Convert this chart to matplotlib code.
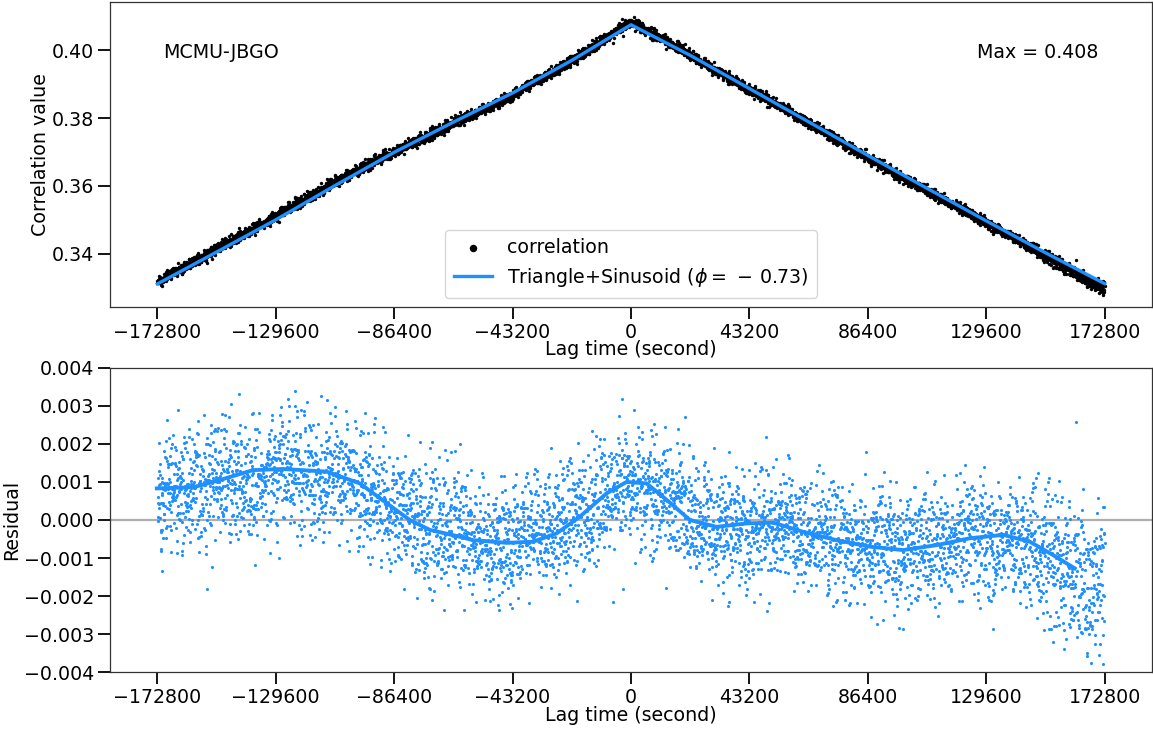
import numpy as np
import matplotlib
matplotlib.use("Agg")
import matplotlib.pyplot as plt

# ---- values ----
# Blue fitted curve (Triangle+Sinusoid) in the upper panel
fit_lag = [-172800, -151200, -129600, -108000, -86400, -64800, -43200, -21600, 0,
           21600, 43200, 64800, 86400, 108000, 129600, 151200, 172800]
fit_val = [0.3311, 0.3405, 0.3500, 0.3601, 0.3699, 0.3788, 0.3874, 0.3970, 0.4075,
           0.3985, 0.3887, 0.3789, 0.3690, 0.3593, 0.3497, 0.3403, 0.3312]

# Smoothed residual curve in the lower panel
smooth_lag = [-173000, -159700, -150000, -137900, -127000, -111000, -98900, -89100,
              -80700, -73400, -62400, -57600, -45300, -35700, -27100, -18600, -8900,
              -1600, 5700, 13000, 21500, 31200, 42100, 51900, 62800, 75000, 87100,
              99300, 111500, 123600, 135800, 145500, 154000, 161900]
smooth_val = [0.00083, 0.00086, 0.00105, 0.00131, 0.00134, 0.00127, 0.00096, 0.00044,
              0.0, -0.00026, -0.00044, -0.00053, -0.00060, -0.00057, -0.00035, 0.00009,
              0.00070, 0.00100, 0.00096, 0.00053, 0.0, -0.00018, -0.00009, -0.00007,
              -0.00031, -0.00053, -0.00070, -0.00079, -0.00066, -0.00048, -0.00039,
              -0.00057, -0.00092, -0.00127]

# Centre and spread of the residual point cloud (read region by region)
cloud_lag = [-172800, -150000, -127000, -98900, -80700, -45300, -18600, -1600, 13000,
             31200, 62800, 99300, 135800, 154000, 163000, 172800]
cloud_mid = [0.00085, 0.00105, 0.00134, 0.00096, 0.0, -0.00060, 0.00009, 0.00100,
             0.00053, -0.00018, -0.00031, -0.00079, -0.00039, -0.00092, -0.00140, -0.00175]
cloud_spread = [0.00088, 0.00086, 0.00084, 0.00080, 0.00078, 0.00076, 0.00078, 0.00080,
                0.00078, 0.00076, 0.00076, 0.00076, 0.00078, 0.00088, 0.00098, 0.00100]

x_ticks = [-172800, -129600, -86400, -43200, 0, 43200, 86400, 129600, 172800]
top_yticks = [0.34, 0.36, 0.38, 0.40]
bot_yticks = [-0.004, -0.003, -0.002, -0.001, 0.0, 0.001, 0.002, 0.003, 0.004]

station = "MCMU-JBGO"
max_text = "Max = 0.408"
fit_label = r"Triangle+Sinusoid ($\phi = \,-\,0.73$)"

# ---- point cloud: individual points cannot be read, so they are scattered
# around the read centre with the read spread ----
lags = np.arange(-172800, 172800 + 1, 72)
rng = np.random.default_rng(7)
resid = (np.interp(lags, cloud_lag, cloud_mid)
         + rng.standard_normal(lags.size) * np.interp(lags, cloud_lag, cloud_spread))
corr = np.interp(lags, fit_lag, fit_val) + resid

# ---- figure ----
fs = 13.7
plt.rcParams['font.family'] = ['DejaVu Sans']
fig = plt.figure(figsize=(11.53, 7.31), dpi=100)
ax1 = fig.add_axes([0.0954, 0.580, 0.9037, 0.4172])
ax2 = fig.add_axes([0.0954, 0.0803, 0.9037, 0.4167])

blue = '#1E90FF'

ax1.scatter(lags, corr, s=6, c='black', linewidths=0, label='correlation', zorder=2)
ax1.plot(fit_lag, fit_val, color=blue, lw=2.4, label=fit_label, zorder=3)
ax1.set_xlim(-190080, 190080)
ax1.set_ylim(0.3243, 0.4142)
ax1.set_yticks(top_yticks)
ax1.set_yticklabels(['%.2f' % v for v in top_yticks])
ax1.set_ylabel('Correlation value', fontsize=fs, labelpad=1)
ax1.text(0.051, 0.835, station, transform=ax1.transAxes, fontsize=fs, va='center', ha='left')
ax1.text(0.949, 0.835, max_text, transform=ax1.transAxes, fontsize=fs, va='center', ha='right')
leg = ax1.legend(loc='lower center', fontsize=fs, scatterpoints=1, markerscale=2.2,
                 handlelength=2.0, borderpad=0.45, labelspacing=0.45)

ax2.scatter(lags, resid, s=5, c=blue, linewidths=0, zorder=2)
ax2.plot(smooth_lag, smooth_val, color=blue, lw=2.8, zorder=3)
ax2.axhline(0, color='0.55', alpha=0.7, lw=1.6, zorder=1)
ax2.set_xlim(-190080, 190080)
ax2.set_ylim(-0.004, 0.004)
ax2.set_yticks(bot_yticks)
ax2.set_yticklabels([('%.3f' % v).replace('-', '\u2212') for v in bot_yticks])
ax2.set_ylabel('Residual', fontsize=fs, labelpad=2)

for ax in (ax1, ax2):
    ax.set_xticks(x_ticks)
    ax.set_xticklabels([('%d' % v).replace('-', '\u2212') for v in x_ticks])
    ax.set_xlabel('Lag time (second)', fontsize=fs, labelpad=-1)
    ax.tick_params(axis='both', direction='out', length=8.6, width=1.3,
                   labelsize=fs, pad=2.8, color='black')
    for sp in ax.spines.values():
        sp.set_linewidth(0.9)
        sp.set_color('0.2')

fig.savefig('out.png', dpi=100)
